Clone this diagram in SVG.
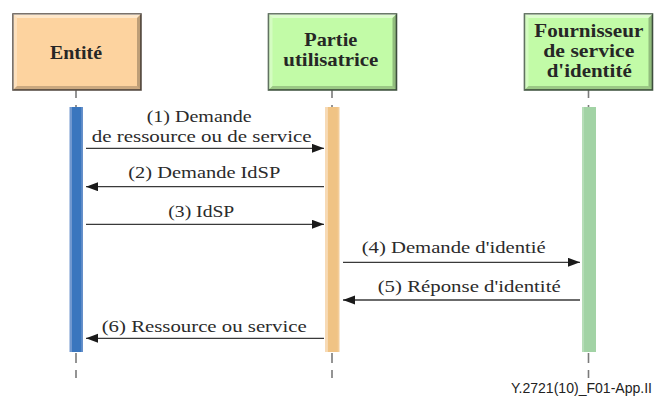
<svg xmlns="http://www.w3.org/2000/svg" xmlns:xlink="http://www.w3.org/1999/xlink" width="655" height="399" viewBox="0 0 655 399">
  <style>
    .hdr { font-family: "Liberation Serif", "Times New Roman", Times, serif; font-weight: bold; font-size: 19.5px; fill: #262626; }
    .lbl { font-family: "Liberation Serif", "Times New Roman", Times, serif; font-size: 17.5px; fill: #2b2b2b; }
    .ref { font-family: "Liberation Sans", Arial, sans-serif; font-size: 14px; fill: #222; }
    .life { stroke: #7a7a7a; stroke-width: 1.6; fill: none; }
    .msg { stroke: #3a3a3a; stroke-width: 1.3; fill: none; marker-end: url(#head); }
    .orange { fill: #FDD39F; stroke: #5a5048; stroke-width: 1.6; }
    .green { fill: #C2FBA7; stroke: #465a46; stroke-width: 1.6; }
  </style>
  <defs>
    <marker id="head" markerUnits="userSpaceOnUse" markerWidth="13" markerHeight="10" refX="12" refY="4.5" orient="auto">
      <path d="M0,0 L12,4.5 L0,9 Z" fill="#1a1a1a"/>
    </marker>
    <!-- raised bevel for 128x76 header boxes -->
    <g id="bevel">
      <path d="M0,0 L128,0 L124,4 L4,4 Z" fill="#ffffff" fill-opacity="0.45"/>
      <path d="M0,0 L4,4 L4,72 L0,76 Z" fill="#ffffff" fill-opacity="0.3"/>
      <path d="M0,76 L4,72 L124,72 L128,76 Z" fill="#000000" fill-opacity="0.2"/>
      <path d="M128,0 L128,76 L124,72 L124,4 Z" fill="#000000" fill-opacity="0.25"/>
    </g>
    <linearGradient id="barBlue" x1="0" y1="0" x2="1" y2="0">
      <stop offset="0" stop-color="#7198CF"/>
      <stop offset="0.17" stop-color="#7198CF"/>
      <stop offset="0.2" stop-color="#3A76BE"/>
      <stop offset="0.85" stop-color="#3A76BE"/>
      <stop offset="0.9" stop-color="#6590CA"/>
      <stop offset="1" stop-color="#6590CA"/>
    </linearGradient>
    <linearGradient id="barOrange" x1="0" y1="0" x2="1" y2="0">
      <stop offset="0" stop-color="#F7DAB5"/>
      <stop offset="0.17" stop-color="#F7DAB5"/>
      <stop offset="0.2" stop-color="#F0C384"/>
      <stop offset="0.85" stop-color="#F0C384"/>
      <stop offset="0.9" stop-color="#F3CC98"/>
      <stop offset="1" stop-color="#F3CC98"/>
    </linearGradient>
    <linearGradient id="barGreen" x1="0" y1="0" x2="1" y2="0">
      <stop offset="0" stop-color="#B6DDB8"/>
      <stop offset="0.15" stop-color="#B6DDB8"/>
      <stop offset="0.18" stop-color="#A2D3A5"/>
      <stop offset="1" stop-color="#A2D3A5"/>
    </linearGradient>
  </defs>

  <!-- Entité -->
  <g id="entite">
    <line class="life" x1="76" y1="90" x2="76" y2="107" stroke-dasharray="8 7"/>
    <line class="life" x1="76" y1="353" x2="76" y2="378" stroke-dasharray="10 7"/>
    <rect class="orange" x="13" y="14" width="128" height="76"/>
    <use xlink:href="#bevel" x="13" y="14"/>
    <text class="hdr" x="50" y="59.3" textLength="52" lengthAdjust="spacingAndGlyphs">Entité</text>
    <rect x="69.5" y="107" width="13.5" height="245" fill="url(#barBlue)"/>
  </g>

  <!-- Partie utilisatrice -->
  <g id="partie-utilisatrice">
    <line class="life" x1="332" y1="90" x2="332" y2="107" stroke-dasharray="8 7"/>
    <line class="life" x1="332" y1="353" x2="332" y2="378" stroke-dasharray="10 7"/>
    <rect class="green" x="268.5" y="14" width="128" height="76"/>
    <use xlink:href="#bevel" x="268.5" y="14"/>
    <text class="hdr" x="304.3" y="46.3" textLength="53" lengthAdjust="spacingAndGlyphs">Partie</text>
    <text class="hdr" x="283.3" y="66.3" textLength="95" lengthAdjust="spacingAndGlyphs">utilisatrice</text>
    <rect x="325" y="107" width="14.5" height="245" fill="url(#barOrange)"/>
  </g>

  <!-- Fournisseur de service d'identité -->
  <g id="fournisseur-identite">
    <line class="life" x1="588.5" y1="90" x2="588.5" y2="107" stroke-dasharray="8 7"/>
    <line class="life" x1="588.5" y1="353" x2="588.5" y2="378" stroke-dasharray="10 7"/>
    <rect class="green" x="524.5" y="14" width="128" height="76"/>
    <use xlink:href="#bevel" x="524.5" y="14"/>
    <text class="hdr" x="534.3" y="36.7" textLength="109" lengthAdjust="spacingAndGlyphs">Fournisseur</text>
    <text class="hdr" x="543.3" y="56.7" textLength="91" lengthAdjust="spacingAndGlyphs">de service</text>
    <text class="hdr" x="546.7" y="76.7" textLength="85" lengthAdjust="spacingAndGlyphs">d'identité</text>
    <rect x="582" y="107" width="14" height="245" fill="url(#barGreen)"/>
  </g>

  <!-- Messages -->
  <g id="connectors">
    <line class="msg" x1="86" y1="148.3" x2="324" y2="148.3"/>
    <text class="lbl" x="146.7" y="121.5" textLength="105" lengthAdjust="spacingAndGlyphs">(1) Demande</text>
    <text class="lbl" x="91.7" y="141.7" textLength="220" lengthAdjust="spacingAndGlyphs">de ressource ou de service</text>

    <line class="msg" x1="324" y1="186.7" x2="86" y2="186.7"/>
    <text class="lbl" x="128.3" y="178.3" textLength="152" lengthAdjust="spacingAndGlyphs">(2) Demande IdSP</text>

    <line class="msg" x1="86" y1="224.3" x2="324" y2="224.3"/>
    <text class="lbl" x="168.3" y="216.7" textLength="66" lengthAdjust="spacingAndGlyphs">(3) IdSP</text>

    <line class="msg" x1="343" y1="262.3" x2="580" y2="262.3"/>
    <text class="lbl" x="361.7" y="253.3" textLength="184" lengthAdjust="spacingAndGlyphs">(4) Demande d'identié</text>

    <line class="msg" x1="580" y1="300" x2="343" y2="300"/>
    <text class="lbl" x="377.7" y="291.7" textLength="183" lengthAdjust="spacingAndGlyphs">(5) Réponse d'identité</text>

    <line class="msg" x1="324" y1="338.3" x2="86" y2="338.3"/>
    <text class="lbl" x="101.7" y="331.7" textLength="205" lengthAdjust="spacingAndGlyphs">(6) Ressource ou service</text>
  </g>

  <text class="ref" x="511" y="393.3" textLength="141" lengthAdjust="spacingAndGlyphs">Y.2721(10)_F01-App.II</text>
</svg>
